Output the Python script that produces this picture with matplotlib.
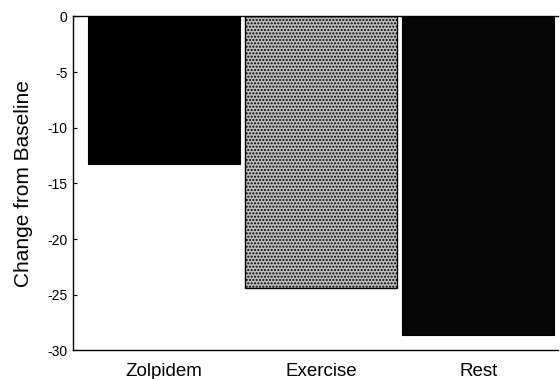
import matplotlib
matplotlib.use("Agg")
import matplotlib.pyplot as plt

plt.rcParams['font.family'] = ['Liberation Sans', 'DejaVu Sans']
plt.rcParams['hatch.linewidth'] = 1.0

# Mean change from baseline per condition
categories = ["Zolpidem", "Exercise", "Rest"]
changes = [-13.3, -24.4, -28.6]
y_ticks = [0, -5, -10, -15, -20, -25, -30]

fig = plt.figure(figsize=(5.6, 3.79), dpi=100)
ax = fig.add_axes([0.1304, 0.0757, 0.8666, 0.881])

x = list(range(len(categories)))
bars = ax.bar(x, changes, width=0.965, color="black", edgecolor="black",
              linewidth=0.8, zorder=2)
# Stippled grey fill for the middle bar
bars[1].set_facecolor("#bdbdbd")
bars[1].set_hatch(".....")
bars[1].set_linewidth(1.0)
bars[2].set_facecolor("#050505")

ax.set_xlim(-0.578, 2.51)
ax.set_ylim(-30, 0)
ax.set_yticks(y_ticks)
ax.set_yticklabels([str(v) for v in y_ticks], fontsize=10)
ax.set_xticks(x)
ax.set_xticklabels(categories, fontsize=13.5)

ax.tick_params(axis="y", direction="in", length=3, width=0.8, pad=4)
ax.tick_params(axis="x", length=0, pad=9)

ax.spines["right"].set_visible(False)
for side in ("left", "bottom", "top"):
    ax.spines[side].set_linewidth(1.0)

ax.set_ylabel("Change from Baseline", fontsize=15, labelpad=10)

fig.savefig("out.png", dpi=100)
